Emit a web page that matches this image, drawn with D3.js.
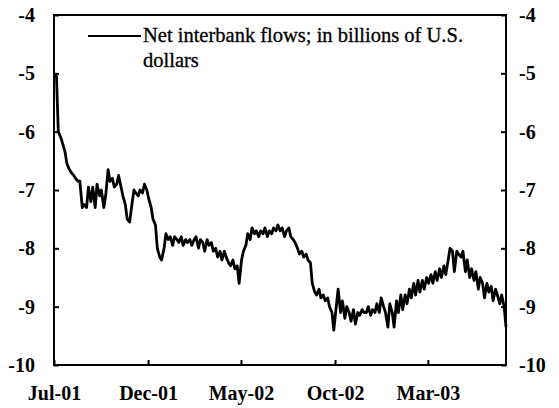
<!DOCTYPE html>
<html>
<head>
<meta charset="utf-8">
<script src="https://cdn.jsdelivr.net/npm/d3@7"></script>
<style>
  body { margin: 0; background: #fff; }
  svg { display: block; }
  text { font-family: "Liberation Serif", "Times New Roman", serif; fill: #000; }
</style>
</head>
<body>
<script>
// twice-weekly readings, first one on 1 Jul 2001
var startDate = new Date(2001, 6, 1);
var stepDays = 3.5;

var flows = [
  -5.0, -5.05, -6.0, -6.1, -6.2, -6.35, -6.55, -6.65, -6.7, -6.75,
  -6.8, -6.85, -6.85, -7.3, -7.25, -7.3, -6.95, -7.2, -6.95, -7.3,
  -6.9, -7.1, -7.0, -7.3, -7.1, -6.65, -6.85, -6.8, -6.95, -6.9,
  -6.75, -6.95, -7.1, -7.25, -7.5, -7.55, -7.3, -7.0, -7.05, -7.1,
  -7.0, -7.05, -6.9, -7.0, -7.15, -7.3, -7.5, -7.6, -8.0, -8.15,
  -8.2, -8.0, -7.75, -7.85, -7.8, -7.95, -7.8, -7.85, -7.9, -7.8,
  -7.95, -7.85, -7.9, -7.85, -7.95, -7.85, -7.8, -8.0, -7.85, -7.9,
  -8.05, -7.85, -7.95, -7.9, -8.05, -8.0, -8.15, -8.05, -8.2, -8.05,
  -8.15, -8.25, -8.3, -8.2, -8.35, -8.3, -8.6, -8.2, -8.05, -7.95,
  -7.75, -7.85, -7.65, -7.75, -7.7, -7.8, -7.7, -7.75, -7.65, -7.8,
  -7.7, -7.75, -7.65, -7.7, -7.6, -7.7, -7.65, -7.8, -7.7, -7.65,
  -7.8, -7.85, -7.9, -8.0, -8.1, -8.05, -8.15, -8.1, -8.2, -8.25,
  -8.6, -8.75, -8.8, -8.7, -8.85, -8.8, -8.9, -8.85, -9.0, -9.1,
  -9.4, -9.0, -8.7, -9.1, -8.9, -9.2, -9.0, -9.1, -9.25, -9.05,
  -9.3, -9.1, -9.15, -9.05, -9.1, -9.1, -9.0, -9.15, -9.05, -9.1,
  -8.95, -9.1, -8.85, -9.0, -9.1, -9.35, -8.95, -9.1, -9.35, -8.9,
  -9.1, -8.8, -9.05, -8.8, -8.95, -8.7, -8.85, -8.6, -8.8, -8.55,
  -8.75, -8.55, -8.7, -8.5, -8.6, -8.45, -8.6, -8.4, -8.55, -8.35,
  -8.5, -8.3, -8.45, -8.2, -8.0, -8.05, -8.4, -8.05, -8.1, -8.15,
  -8.05, -8.4, -8.2, -8.5, -8.35, -8.55, -8.4, -8.7, -8.5, -8.6,
  -8.85, -8.6, -8.75, -8.65, -8.9, -8.7, -8.8, -8.95, -8.8, -9.0,
  -9.35
];

var tickDates = [new Date(2001, 6, 1), new Date(2001, 11, 1), new Date(2002, 4, 1),
                 new Date(2002, 9, 1), new Date(2003, 2, 1)];
var tickNames = ["Jul-01", "Dec-01", "May-02", "Oct-02", "Mar-03"];
var yTicks = [-4, -5, -6, -7, -8, -9, -10];
var legendLines = ["Net interbank flows; in billions of U.S.", "dollars"];

var data = flows.map(function(v, i) {
  return { date: d3.timeDay.offset(startDate, Math.round(i * stepDays)), value: v };
});

var W = 559, H = 408;
var plotL = 54, plotR = 506, plotT = 15, plotB = 365;

var x = d3.scaleTime()
  .domain([startDate, new Date(2003, 6, 6)])
  .range([plotL, plotR]);

var y = d3.scaleLinear()
  .domain([-10, -4])
  .range([plotB, plotT]);

var svg = d3.select("body").append("svg")
  .attr("width", W)
  .attr("height", H);

// frame
svg.append("rect")
  .attr("x", plotL).attr("y", plotT)
  .attr("width", plotR - plotL).attr("height", plotB - plotT)
  .attr("fill", "none").attr("stroke", "#000").attr("stroke-width", 2);

var yl = svg.append("g")
  .attr("transform", "translate(" + plotL + ",0)")
  .call(d3.axisLeft(y).tickValues(yTicks).tickSize(-5).tickPadding(19).tickFormat(d3.format("d")));

var yr = svg.append("g")
  .attr("transform", "translate(" + plotR + ",0)")
  .call(d3.axisRight(y).tickValues(yTicks).tickSize(-5).tickPadding(13).tickFormat(d3.format("d")));

var xb = svg.append("g")
  .attr("transform", "translate(0," + plotB + ")")
  .call(d3.axisBottom(x).tickValues(tickDates).tickSize(-5).tickPadding(21)
    .tickFormat(function(d, i) { return tickNames[i]; }));

[yl, yr, xb].forEach(function(g) {
  g.select(".domain").remove();
  g.selectAll(".tick line").attr("stroke", "#000").attr("stroke-width", 2);
  g.selectAll(".tick text")
    .style("font-family", "'Liberation Serif', serif")
    .style("font-size", "20px")
    .style("font-weight", "bold")
    .attr("fill", "#000");
});
// d3 uses a unicode minus; the source uses a plain hyphen
svg.selectAll(".tick text").text(function() { return this.textContent.replace("\u2212", "-"); });

var line = d3.line()
  .x(function(d) { return x(d.date); })
  .y(function(d) { return y(d.value); });

svg.append("path")
  .datum(data)
  .attr("fill", "none")
  .attr("stroke", "#000")
  .attr("stroke-width", 2.8)
  .attr("stroke-linejoin", "round")
  .attr("d", line);

// legend
svg.append("line")
  .attr("x1", 88).attr("x2", 141)
  .attr("y1", 36).attr("y2", 36)
  .attr("stroke", "#000").attr("stroke-width", 2);

svg.selectAll(".legend-text")
  .data(legendLines)
  .enter().append("text")
  .attr("class", "legend-text")
  .attr("x", 143)
  .attr("y", function(d, i) { return 42 + i * 25; })
  .style("font-size", "20.5px")
  .style("stroke", "#000")
  .style("stroke-width", 0.3)
  .text(function(d) { return d; });
</script>
</body>
</html>
